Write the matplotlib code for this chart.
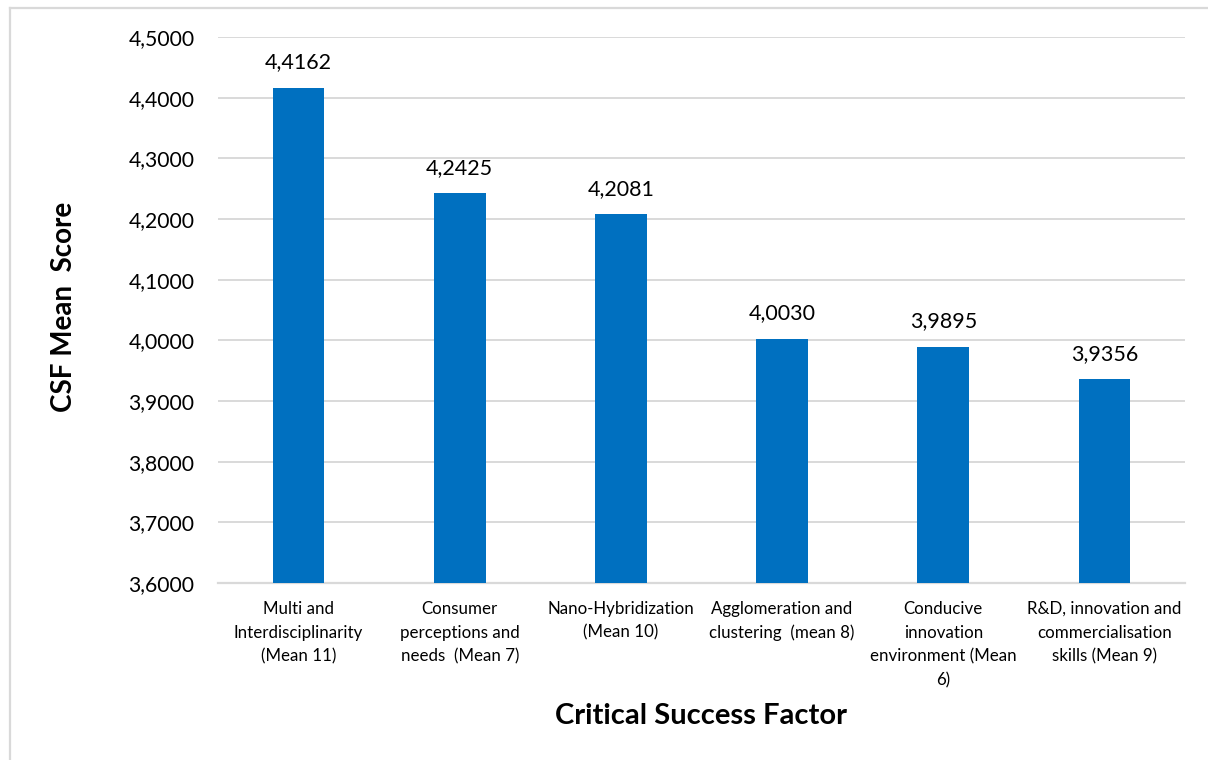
import matplotlib
matplotlib.use("Agg")
import matplotlib.pyplot as plt
from matplotlib.lines import Line2D
from matplotlib.ticker import FuncFormatter, MultipleLocator

plt.rcParams['font.family'] = ['Lato', 'DejaVu Sans']

categories = [
    "Multi and\nInterdisciplinarity\n(Mean 11)",
    "Consumer\nperceptions and\nneeds  (Mean 7)",
    "Nano-Hybridization\n(Mean 10)",
    "Agglomeration and\nclustering  (mean 8)",
    "Conducive\ninnovation\nenvironment (Mean\n6)",
    "R&D, innovation and\ncommercialisation\nskills (Mean 9)",
]
mean_scores = [4.4162, 4.2425, 4.2081, 4.0030, 3.9895, 3.9356]

y_min, y_max, y_step = 3.6, 4.5, 0.1
bar_color = "#0070C0"
grid_color = "#D9D9D9"


def comma_decimal(v, _pos=None):
    return f"{v:.4f}".replace(".", ",")


fig = plt.figure(figsize=(12.08, 7.6), dpi=100)
ax = fig.add_axes([218 / 1208, 1 - 583 / 760, (1185 - 218) / 1208, (583 - 37) / 760])

x = range(len(categories))
bars = ax.bar(x, mean_scores, width=0.32, color=bar_color, zorder=3)

for rect, v in zip(bars, mean_scores):
    ax.annotate(comma_decimal(v), (rect.get_x() + rect.get_width() / 2, v),
                xytext=(0, 11), textcoords="offset points",
                ha="center", va="bottom", fontsize=15.5, color="#000000")

ax.set_ylim(y_min, y_max)
ax.set_xlim(-0.5, len(categories) - 0.5)
ax.yaxis.set_major_locator(MultipleLocator(y_step))
ax.yaxis.set_major_formatter(FuncFormatter(comma_decimal))
ax.grid(axis="y", color=grid_color, linewidth=1.4, zorder=0)
ax.set_axisbelow(True)

for side in ("top", "right", "left"):
    ax.spines[side].set_visible(False)
ax.spines["bottom"].set_color(grid_color)
ax.spines["bottom"].set_linewidth(1.6)

ax.tick_params(axis="y", length=0, pad=17, labelsize=15.2, labelcolor="#000000")
ax.tick_params(axis="x", length=0, pad=13, labelsize=12.2, labelcolor="#000000")
ax.set_xticks(list(x))
ax.set_xticklabels(categories, linespacing=1.58)

fig.text(701 / 1208, 1 - 716 / 760, "Critical Success Factor", ha="center", va="center",
         fontsize=21, fontweight="bold")
fig.text(64 / 1208, 1 - 307 / 760, "CSF Mean  Score", ha="center", va="center",
         rotation=90, fontsize=20, fontweight="bold")

# outer chart frame (left and top edges)
fig.add_artist(Line2D([10 / 1208, 10 / 1208], [0, 1 - 8 / 760], transform=fig.transFigure,
                      color=grid_color, linewidth=1.6))
fig.add_artist(Line2D([10 / 1208, 1], [1 - 8 / 760, 1 - 8 / 760], transform=fig.transFigure,
                      color=grid_color, linewidth=1.6))

fig.savefig("out.png", dpi=100, facecolor="white")
